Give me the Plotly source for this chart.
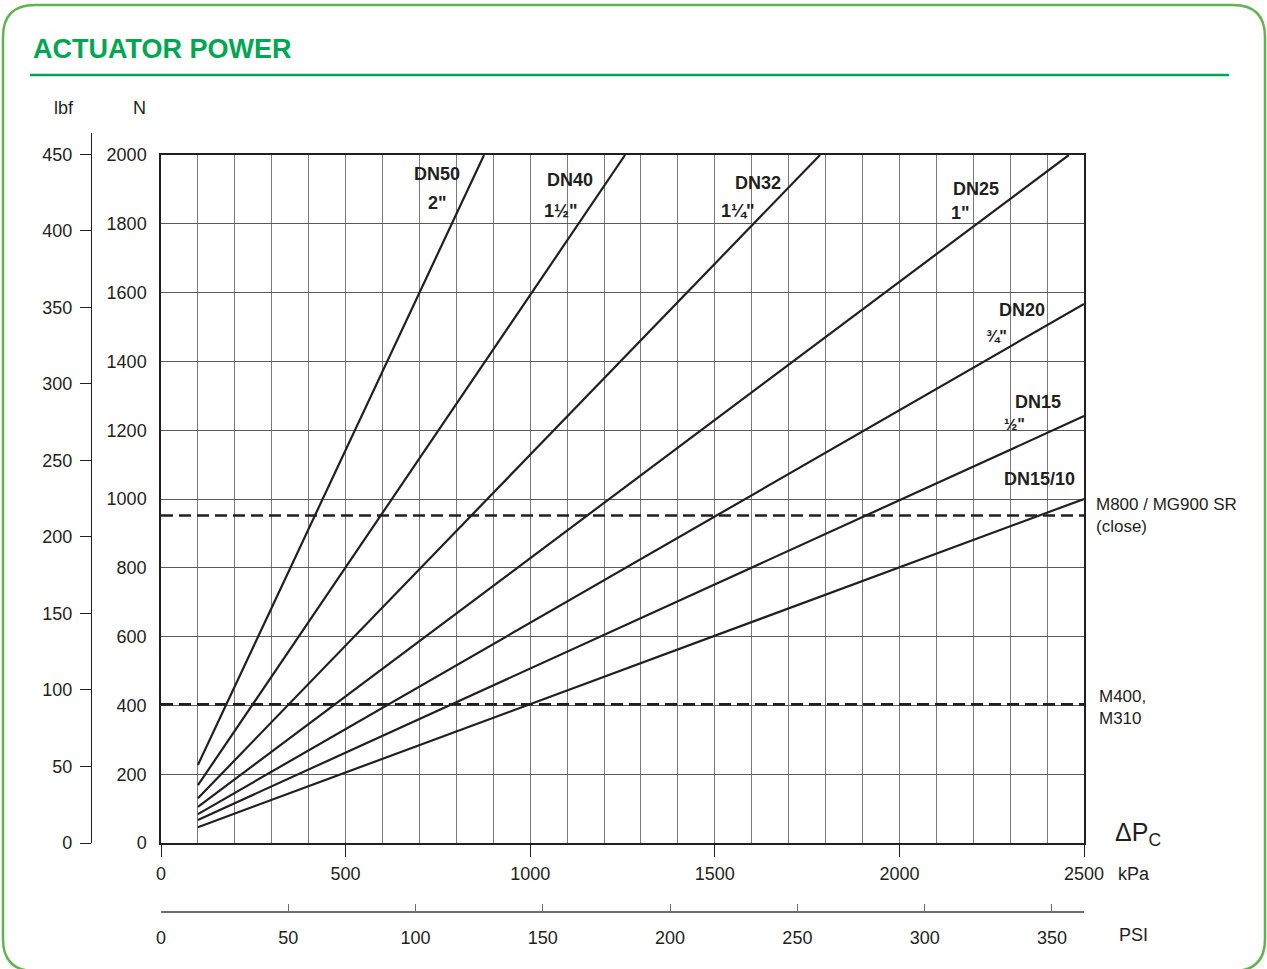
import plotly.graph_objects as go

W, H = 1267, 969

# ---------------- data ----------------
series_names = ["DN50", "DN40", "DN32", "DN25", "DN20", "DN15", "DN15/10"]
kpa_start = [100, 100, 100, 100, 100, 100, 100]
kpa_end = [875, 1257, 1785, 2459, 2500, 2500, 2500]
force_start = [227, 168, 130, 105, 84, 67, 46]
force_end = [2000, 2000, 2000, 2000, 1567, 1241, 1000]

limit_names = ["M800 / MG900 SR<br>(close)", "M400,<br>M310"]
limit_force = [952, 403]

kpa_ticks = [0, 500, 1000, 1500, 2000, 2500]
psi_ticks = [0, 50, 100, 150, 200, 250, 300, 350]
lbf_ticks = [0, 50, 100, 150, 200, 250, 300, 350, 400, 450]
n_ticks = [0, 200, 400, 600, 800, 1000, 1200, 1400, 1600, 1800, 2000]

KPA_MAX = 2500
N_MAX = 2000
KPA_PER_PSI = 6.89476
N_PER_LBF = 4.448

# ---------------- helpers ----------------
def px(x):
    return x / W

def py(y):
    return 1 - y / H

LINE = "#231f20"
GRID_H = "#5a5a5a"
GRID_V = "#7a7a7a"
GREEN_T = "#00a651"
GREEN_F = "#62b34f"
FONT = "Liberation Sans, Arial, sans-serif"

fig = go.Figure()

for name, x0, x1, y0, y1 in zip(series_names, kpa_start, kpa_end, force_start, force_end):
    fig.add_trace(go.Scatter(x=[x0, x1], y=[y0, y1], mode="lines", name=name,
                             line=dict(color=LINE, width=2.2), showlegend=False,
                             hoverinfo="skip"))

for name, f in zip(limit_names, limit_force):
    fig.add_trace(go.Scatter(x=[0, KPA_MAX], y=[f, f], mode="lines", name=name,
                             line=dict(color=LINE, width=2.6, dash="12px,6px"),
                             showlegend=False, hoverinfo="skip"))

# invisible trace to activate the secondary (PSI / lbf) axes
fig.add_trace(go.Scatter(x=[0], y=[0], xaxis="x2", yaxis="y2", mode="markers",
                         marker=dict(opacity=0), showlegend=False, hoverinfo="skip"))

PL, PR, PT, PB = 161, 1084, 155, 843
lbf_top_px = 133
lbf_range_top = (N_MAX / N_PER_LBF) * (PB - lbf_top_px) / (PB - PT)

tickfont = dict(family=FONT, size=18, color=LINE)

fig.update_layout(
    width=W, height=H, autosize=False,
    margin=dict(l=0, r=0, t=0, b=0, pad=0),
    paper_bgcolor="white", plot_bgcolor="rgba(0,0,0,0)",
    xaxis=dict(domain=[px(PL), px(PR)], range=[0, KPA_MAX], anchor="y", automargin=False,
               tickvals=kpa_ticks, ticktext=[str(v) for v in kpa_ticks],
               ticks="outside", ticklen=12, tickcolor=LINE, tickwidth=1.3,
               showline=True, linecolor=LINE, linewidth=2, mirror=True,
               showgrid=True, gridcolor=GRID_V, gridwidth=1.2,
               minor=dict(dtick=100, showgrid=True, gridcolor=GRID_V, gridwidth=1.2,
                          ticks="", ticklen=0),
               zeroline=False, tickfont=tickfont, ticklabelstandoff=1, fixedrange=True),
    xaxis2=dict(domain=[px(PL), px(PR)], range=[0, KPA_MAX / KPA_PER_PSI],
                anchor="free", position=py(912), side="bottom", automargin=False,
                tickvals=psi_ticks, ticks="inside", ticklen=7, tickcolor="#6d6e71",
                tickwidth=1.3, showline=True, linecolor="#6d6e71", linewidth=1.6,
                showgrid=False, zeroline=False, tickfont=tickfont,
                ticklabelstandoff=10, fixedrange=True),
    yaxis=dict(domain=[py(PB), py(PT)], range=[0, N_MAX], anchor="x", automargin=False,
               tickvals=n_ticks, ticks="", showline=True, linecolor=LINE,
               linewidth=1.5, mirror=True, showgrid=True, gridcolor=GRID_H,
               gridwidth=1.2, zeroline=False, tickfont=tickfont,
               ticklabelstandoff=9, fixedrange=True),
    yaxis2=dict(domain=[py(PB), py(lbf_top_px)], range=[0, lbf_range_top],
                anchor="free", position=px(91), side="left", automargin=False,
                tickvals=lbf_ticks, ticks="outside", ticklen=11, tickcolor=LINE,
                tickwidth=1.2, showline=True, linecolor=LINE, linewidth=1.3,
                showgrid=False, zeroline=False, tickfont=tickfont,
                ticklabelstandoff=4, fixedrange=True),
)

# ---------------- frame, title ----------------
def rounded_path(x0, y0, x1, y1, r):
    pts = [
        ("M", [(x0 + r, y0)]), ("L", [(x1 - r, y0)]), ("Q", [(x1, y0), (x1, y0 + r)]),
        ("L", [(x1, y1 - r)]), ("Q", [(x1, y1), (x1 - r, y1)]),
        ("L", [(x0 + r, y1)]), ("Q", [(x0, y1), (x0, y1 - r)]),
        ("L", [(x0, y0 + r)]), ("Q", [(x0, y0), (x0 + r, y0)]),
    ]
    s = ""
    for cmd, ps in pts:
        s += cmd + " " + " ".join(f"{px(a):.5f},{py(b):.5f}" for a, b in ps) + " "
    return s + "Z"

fig.add_shape(type="path", path=rounded_path(3, 5, 1265, 971, 32), xref="paper", yref="paper",
              line=dict(color=GREEN_F, width=2.5), layer="above")
fig.add_shape(type="line", x0=px(30), x1=px(1229), y0=py(75), y1=py(75),
              xref="paper", yref="paper", line=dict(color=GREEN_T, width=2.5))

ann = []
def note(text, x, y, size=18, color=LINE, bold=False, xanchor="center", family=FONT):
    t = f"<b>{text}</b>" if bold else text
    ann.append(dict(text=t, x=px(x), y=py(y), xref="paper", yref="paper",
                    xanchor=xanchor, yanchor="middle", showarrow=False,
                    align="left", font=dict(family=family, size=size, color=color)))

note("ACTUATOR POWER", 31, 49, size=27, color=GREEN_T, bold=True, xanchor="left")
note("lbf", 64, 108)
note("N", 139, 108)
note("kPa", 1134, 874)
note("PSI", 1133, 935)
note("ΔP<sub>C</sub>", 1138, 834, size=25)

# curve labels
note("DN50", 437, 174, bold=True)
note("2\"", 437, 203, bold=True)
note("DN40", 570, 180, bold=True)
note("1½\"", 561, 211, bold=True)
note("DN32", 758, 183, bold=True)
note("1¼\"", 738, 211, bold=True)
note("DN25", 976, 189, bold=True)
note("1\"", 960, 213, bold=True)
note("DN20", 1022, 310, bold=True)
note("¾\"", 996, 337, size=16, bold=True)
note("DN15", 1038, 402, bold=True)
note("½\"", 1014, 424, size=16, bold=True)
note("DN15/10", 1039, 479, bold=True)

note(limit_names[0], 1094, 515, size=17, xanchor="left")
note(limit_names[1], 1097, 707, size=17, xanchor="left")

fig.update_layout(annotations=ann)

fig.write_html("out.html", config={"displayModeBar": False},
               post_script="document.body.style.margin='0px';")
